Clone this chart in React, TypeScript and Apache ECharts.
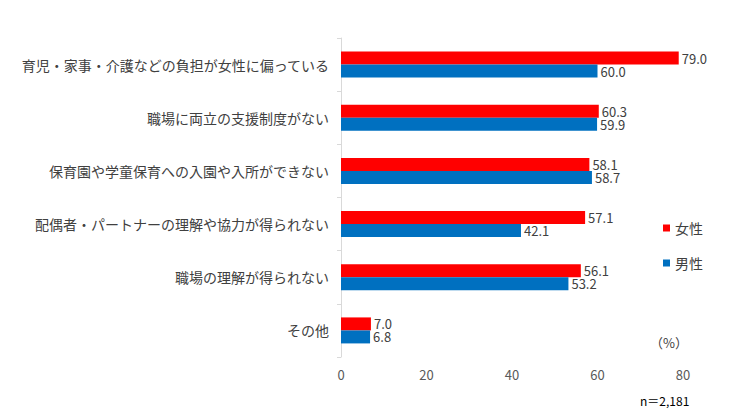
import React, { useEffect, useRef } from "react";
import * as echarts from "echarts";

const categories = [
  "育児・家事・介護などの負担が女性に偏っている",
  "職場に両立の支援制度がない",
  "保育園や学童保育への入園や入所ができない",
  "配偶者・パートナーの理解や協力が得られない",
  "職場の理解が得られない",
  "その他",
];
const female = [79.0, 60.3, 58.1, 57.1, 56.1, 7.0];
const male = [60.0, 59.9, 58.7, 42.1, 53.2, 6.8];
const xTicks = [0, 20, 40, 60, 80];

const FONT = "'Noto Sans CJK JP', 'Noto Sans', sans-serif";
const TEXT = "#404040";

export default function App() {
  const ref = useRef<HTMLDivElement>(null);
  useEffect(() => {
    if (!ref.current) return;
    const chart = echarts.init(ref.current, undefined, { renderer: "svg" });
    const labelOpt = {
      show: true,
      position: "right" as const,
      distance: 3,
      color: TEXT,
      fontSize: 13,
      lineHeight: 12,
      fontFamily: FONT,
      formatter: (p: any) => Number(p.value).toFixed(1),
    };
    chart.setOption({
      animation: false,
      textStyle: { fontFamily: FONT },
      grid: { left: 341, right: 740 - 683, top: 38, bottom: 417 - 357 },
      legend: {
        orient: "vertical",
        left: 658,
        top: 216,
        itemWidth: 7,
        itemHeight: 7,
        itemGap: 21,
        icon: "rect",
        textStyle: { color: TEXT, fontSize: 14, fontFamily: FONT },
        data: ["女性", "男性"],
      },
      xAxis: {
        type: "value",
        min: xTicks[0],
        max: xTicks[xTicks.length - 1],
        interval: 20,
        axisLine: { show: false },
        axisTick: { show: false },
        splitLine: { show: false },
        axisLabel: { color: "#595959", fontSize: 13, fontFamily: FONT, margin: 11 },
      },
      yAxis: {
        type: "category",
        data: categories,
        inverse: true,
        axisLine: { show: true, lineStyle: { color: "#d9d9d9" } },
        axisTick: { show: true, length: 4, lineStyle: { color: "#d9d9d9" } },
        axisLabel: { color: TEXT, fontSize: 14, fontFamily: FONT, margin: 12 },
      },
      graphic: [
        {
          type: "text",
          left: 650,
          top: 336,
          style: { text: "（%）", fill: TEXT, fontSize: 13, fontFamily: FONT },
        },
        {
          type: "text",
          left: 640,
          top: 394,
          style: { text: "n＝2,181", fill: "#000", fontSize: 12, fontFamily: FONT },
        },
      ],
      series: [
        {
          name: "女性",
          type: "bar",
          data: female,
          barWidth: 13,
          barGap: "0%",
          itemStyle: { color: "#FF0000" },
          label: labelOpt,
        },
        {
          name: "男性",
          type: "bar",
          data: male,
          barWidth: 13,
          itemStyle: { color: "#0070C0" },
          label: labelOpt,
        },
      ],
    });
    return () => chart.dispose();
  }, []);
  return <div ref={ref} style={{ width: 740, height: 417, position: "absolute", left: 0, top: 0 }} />;
}
